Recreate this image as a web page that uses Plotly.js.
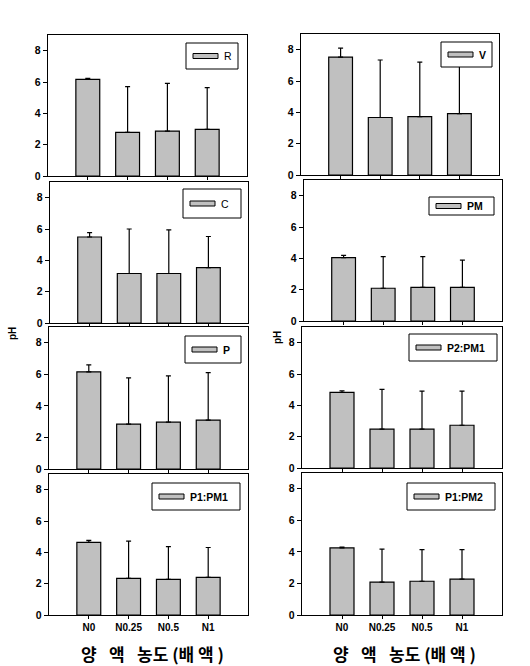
<!DOCTYPE html>
<html>
<head>
<meta charset="utf-8">
<script src="https://cdn.plot.ly/plotly-3.0.1.min.js"></script>
<style>html,body{margin:0;padding:0;background:#fff;}#chart{width:530px;height:666px;}</style>
</head>
<body>
<div id="chart"></div>
<script>
// ---- data ----
const categories = ['N0', 'N0.25', 'N0.5', 'N1'];
const panelNames = ['R', 'V', 'C', 'PM', 'P', 'P2:PM1', 'P1:PM1', 'P1:PM2'];

const R_mean = [6.17, 2.79, 2.87, 2.98];
const R_err = [0.06, 2.91, 3.04, 2.66];
const V_mean = [7.53, 3.67, 3.73, 3.92];
const V_err = [0.57, 3.67, 3.48, 3.40];
const C_mean = [5.49, 3.16, 3.16, 3.54];
const C_err = [0.28, 2.84, 2.78, 1.98];
const PM_mean = [4.04, 2.09, 2.15, 2.15];
const PM_err = [0.15, 2.02, 1.96, 1.74];
const P_mean = [6.16, 2.85, 2.97, 3.10];
const P_err = [0.44, 2.93, 2.93, 3.01];
const P2PM1_mean = [4.83, 2.48, 2.48, 2.73];
const P2PM1_err = [0.10, 2.54, 2.43, 2.18];
const P1PM1_mean = [4.63, 2.34, 2.27, 2.40];
const P1PM1_err = [0.13, 2.37, 2.10, 1.91];
const P1PM2_mean = [4.25, 2.08, 2.14, 2.27];
const P1PM2_err = [0.06, 2.10, 2.00, 1.87];

const yTicks = [0, 2, 4, 6, 8];
const xTitle = '양\u2002 액\u2002 농도 (배 액 )';
const yTitle = 'pH';

const means = [R_mean, V_mean, C_mean, PM_mean, P_mean, P2PM1_mean, P1PM1_mean, P1PM2_mean];
const errs = [R_err, V_err, C_err, PM_err, P_err, P2PM1_err, P1PM1_err, P1PM2_err];

// ---- layout geometry (pixels) ----
const W = 530, H = 666;
const px = v => v / W;
const py = v => 1 - v / H;
// [x0, x1, yTop, yBottom]
const panelBox = [
  [48, 247, 35, 176], [301, 499, 34, 175],
  [50, 248, 182, 323], [304, 502, 180, 321],
  [49, 248, 327, 469], [302, 502, 327, 468],
  [49, 248, 474, 615], [302, 502, 473, 615]
];
// legend boxes [x0, x1, yTop, yBottom]
const legBox = [
  [186, 238, 43, 69], [441, 492, 42, 67],
  [183, 241, 189, 218], [429, 494, 197, 215],
  [185, 241, 336, 363], [409, 497, 334, 361],
  [152, 240, 483, 510], [407, 495, 483, 510]
];
const legBold = [false, true, false, true, true, true, true, true];

const FONT = 'Liberation Sans, Arial, sans-serif';
const traces = [];
const layout = {
  width: W, height: H,
  margin: {l: 0, r: 0, t: 0, b: 0},
  paper_bgcolor: '#fff', plot_bgcolor: '#fff',
  showlegend: false,
  shapes: [], annotations: []
};

panelNames.forEach((name, i) => {
  const k = i + 1;
  const xa = k === 1 ? 'x' : 'x' + k;
  const ya = k === 1 ? 'y' : 'y' + k;
  traces.push({
    type: 'bar', x: categories, y: means[i], name: name,
    xaxis: xa, yaxis: ya, width: 0.6,
    marker: {color: '#c0c0c0', line: {color: '#000', width: 1.2}},
    error_y: {type: 'data', symmetric: false, array: errs[i], arrayminus: [0, 0, 0, 0],
      color: '#000', thickness: 1.2, width: 2.5}
  });
  const b = panelBox[i];
  const bottomRow = i >= 6;
  layout['xaxis' + (k === 1 ? '' : k)] = {
    domain: [px(b[0]), px(b[1])], anchor: ya,
    type: 'category', range: [-1, 4],
    showline: true, mirror: true, linecolor: '#000', linewidth: 1.2,
    ticks: 'outside', ticklen: 3, tickcolor: '#000', tickwidth: 1,
    showgrid: false, zeroline: false,
    showticklabels: bottomRow,
    tickfont: {family: FONT, size: 10, color: '#000', weight: 'bold'}
  };
  layout['yaxis' + (k === 1 ? '' : k)] = {
    domain: [py(b[3]), py(b[2])], anchor: xa,
    range: [0, 9], tickvals: yTicks, ticktext: yTicks.map(String),
    showline: true, mirror: true, linecolor: '#000', linewidth: 1.2,
    ticks: 'outside', ticklen: 4, tickcolor: '#000', tickwidth: 1,
    showgrid: false, zeroline: false,
    tickfont: {family: FONT, size: 10.5, color: '#000', weight: 'bold'}
  };
  // legend box
  const L = legBox[i];
  layout.shapes.push({type: 'rect', xref: 'paper', yref: 'paper',
    x0: px(L[0]), x1: px(L[1]), y0: py(L[3]), y1: py(L[2]),
    line: {color: '#000', width: 1}, fillcolor: '#fff'});
  const cy = (L[2] + L[3]) / 2;
  layout.shapes.push({type: 'rect', xref: 'paper', yref: 'paper',
    x0: px(L[0] + 7), x1: px(L[0] + 32), y0: py(cy + 2.5), y1: py(cy - 2.5),
    line: {color: '#000', width: 1}, fillcolor: '#c0c0c0'});
  layout.annotations.push({xref: 'paper', yref: 'paper', x: px(L[0] + 36), y: py(cy),
    xanchor: 'left', yanchor: 'middle', showarrow: false, text: name,
    font: {family: FONT, size: 10.5, color: '#000', weight: legBold[i] ? 'bold' : 'normal'}});
});

// axis titles
[152, 404].forEach(cx => {
  layout.annotations.push({xref: 'paper', yref: 'paper', x: px(cx), y: py(653),
    xanchor: 'center', yanchor: 'middle', showarrow: false, text: xTitle,
    font: {family: 'Noto Sans CJK KR, sans-serif', size: 17, color: '#000', weight: 'bold'}});
});
[[12, 334], [277, 338]].forEach(p => {
  layout.annotations.push({xref: 'paper', yref: 'paper', x: px(p[0]), y: py(p[1]),
    xanchor: 'center', yanchor: 'middle', showarrow: false, text: yTitle, textangle: -90,
    font: {family: FONT, size: 10, color: '#000', weight: 'bold'}});
});

Plotly.newPlot('chart', traces, layout, {staticPlot: true, displayModeBar: false});
</script>
</body>
</html>
